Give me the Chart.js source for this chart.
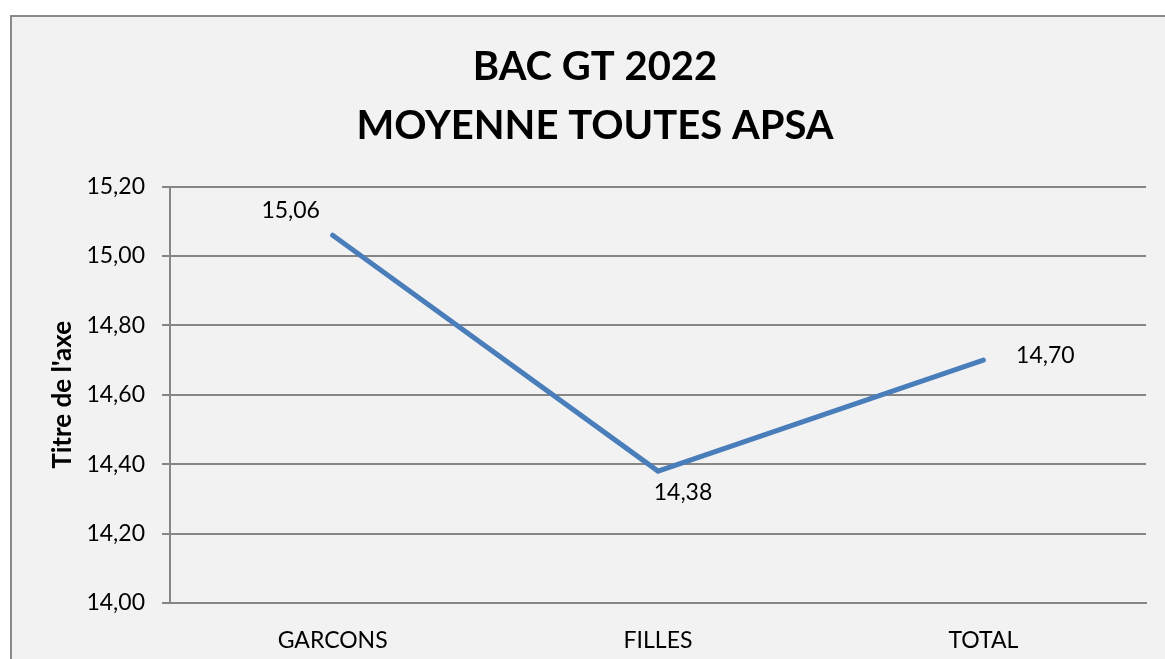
<!DOCTYPE html>
<html>
<head>
<meta charset="utf-8">
<script src="https://cdn.jsdelivr.net/npm/chart.js@4/dist/chart.umd.min.js"></script>
<style>
  html, body { margin: 0; padding: 0; background: #ffffff; }
  #chart { display: block; }
</style>
</head>
<body>
<canvas id="chart" width="1165" height="659"></canvas>
<script>
const categories = ['GARCONS', 'FILLES', 'TOTAL'];
const moyennes = [15.06, 14.38, 14.70];
const titleLines = ['BAC GT 2022', 'MOYENNE TOUTES APSA'];
const yMin = 14.0;
const yMax = 15.2;
const yStep = 0.2;
// where Excel put each data label, relative to its point
const labelOffsets = [[-42, -25], [25, 21], [62, -5]];

function frNumber(v) {
    return Number(v).toFixed(2).replace('.', ',');
}

const frame = {
    id: 'frame',
    beforeDraw(chart) {
        const ctx = chart.ctx;
        ctx.save();
        ctx.fillStyle = '#f2f2f2';
        ctx.fillRect(11, 16, chart.width - 11, chart.height - 16);
        ctx.strokeStyle = '#898989';
        ctx.lineWidth = 2;
        ctx.beginPath();
        ctx.moveTo(11, chart.height);
        ctx.lineTo(11, 16);
        ctx.lineTo(chart.width, 16);
        ctx.stroke();
        ctx.restore();
    }
};

const valueLabels = {
    id: 'valueLabels',
    afterDatasetsDraw(chart) {
        const ctx = chart.ctx;
        const meta = chart.getDatasetMeta(0);
        ctx.save();
        ctx.font = '23px Lato';
        ctx.fillStyle = '#000000';
        ctx.textAlign = 'center';
        ctx.textBaseline = 'middle';
        meta.data.forEach((pt, i) => {
            const off = labelOffsets[i];
            ctx.fillText(frNumber(moyennes[i]), pt.x + off[0], pt.y + off[1]);
        });
        ctx.restore();
    }
};

const ctx = document.getElementById('chart').getContext('2d');
new Chart(ctx, {
    type: 'line',
    data: {
        labels: categories,
        datasets: [{
            label: 'Moyenne',
            data: moyennes,
            borderColor: '#4a7ebb',
            borderWidth: 5,
            borderCapStyle: 'round',
            pointRadius: 0,
            tension: 0,
            fill: false
        }]
    },
    options: {
        responsive: false,
        animation: false,
        layout: { padding: { left: 44, right: 19, top: 0, bottom: 0 } },
        plugins: {
            legend: { display: false },
            tooltip: { enabled: false },
            title: {
                display: true,
                text: titleLines,
                color: '#000000',
                font: { family: 'Lato', size: 40, weight: 'bold', lineHeight: 1.47 },
                padding: { top: 38, bottom: 31 }
            }
        },
        scales: {
            x: {
                offset: true,
                afterFit(scale) { scale.height = 56; },
                grid: { display: false },
                border: { display: true, color: '#868686', width: 2 },
                ticks: {
                    color: '#000000',
                    font: { family: 'Lato', size: 23 },
                    padding: 16
                }
            },
            y: {
                min: yMin,
                max: yMax,
                afterFit(scale) { scale.width = 126; },
                grid: {
                    color: '#868686',
                    lineWidth: 2,
                    tickLength: 8,
                    drawTicks: true
                },
                border: { display: true, color: '#868686', width: 2 },
                ticks: {
                    stepSize: yStep,
                    color: '#000000',
                    font: { family: 'Lato', size: 23 },
                    padding: 17,
                    callback: (v) => frNumber(v)
                },
                title: {
                    display: true,
                    text: "Titre de l'axe",
                    color: '#000000',
                    font: { family: 'Lato', size: 26, weight: 'bold' },
                    padding: { top: 3, bottom: 0 }
                }
            }
        }
    },
    plugins: [frame, valueLabels]
});
</script>
</body>
</html>
